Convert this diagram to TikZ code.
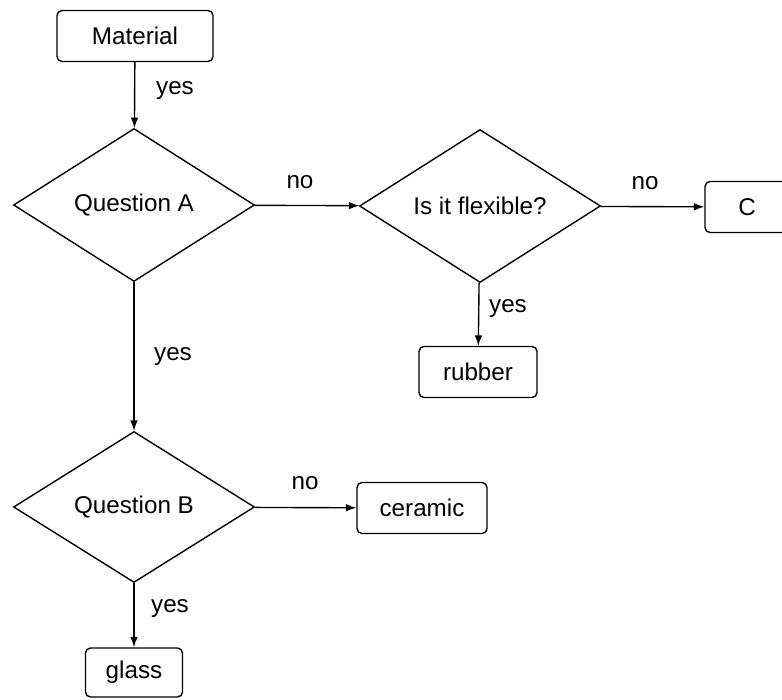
\documentclass[tikz,border=0pt]{standalone}
\usepackage{fontspec}
\setmainfont{Liberation Sans}
\usetikzlibrary{shapes.geometric,arrows.meta}

\begin{document}
\begin{tikzpicture}[box/.style={draw,rounded corners=.05in,minimum height=.51in,inner sep=0pt},
  ask/.style={draw,diamond,aspect=1.6,inner sep=0pt,minimum width=2.41in,minimum height=1.53in},
  every node/.style={font=\fontsize{17.5}{20}\selectfont},
  line width=1pt,>={Latex[length=7.5pt,width=5.5pt]}]
\useasboundingbox (0,0) rectangle (7.82in,-7in);
\node[box,minimum width=1.56in] (mat) at (1.35in,-.36in) {Material};
\node[ask] (qa) at (1.34in,-2.05in) {Question A};
\node[ask] (flex) at (4.80in,-2.06in) {Is it flexible?};
\node[box,minimum width=.84in] (c) at (7.47in,-2.07in) {C};
\node[box,minimum width=1.18in] (rub) at (4.78in,-3.72in) {rubber};
\node[ask,minimum height=1.51in] (qb) at (1.34in,-5.07in) {Question B};
\node[box,minimum width=1.30in] (cer) at (4.22in,-5.08in) {ceramic};
\node[box,minimum width=.97in,minimum height=.49in] (gl) at (1.34in,-6.725in) {glass};
\draw[->] (mat) -- (qa);
\draw[->] (qa) -- (flex);
\draw[->] (flex) -- (c);
\draw[->] (flex) -- (rub);
\draw[->] (qa) -- (qb);
\draw[->] (qb) -- (cer);
\draw[->] (qb) -- (gl);
\node (y1) at (1.75in,-.9in) {yes};
\node (n1) at (3.0in,-1.82in) {no};
\node (n2) at (6.45in,-1.83in) {no};
\node (y2) at (5.08in,-3.08in) {yes};
\node (y3) at (1.73in,-3.56in) {yes};
\node (n3) at (3.05in,-4.83in) {no};
\node (y4) at (1.70in,-6.08in) {yes};
\end{tikzpicture}
\end{document}
